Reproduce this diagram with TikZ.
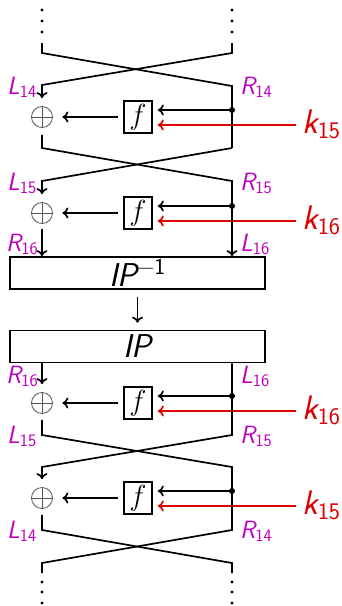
\RequirePackage{fix-cm}
\documentclass[tikz,border=0pt]{standalone}
\usepackage{graphicx}
\usetikzlibrary{arrows.meta}
\definecolor{halfcol}{RGB}{191,0,191}
\definecolor{keycol}{RGB}{220,0,0}
\definecolor{xorcol}{RGB}{85,85,85}
% a half-block name: slanted sans letter with an upright sans index
\newcommand\halfname[2]{{\sffamily\itshape #1}\textsubscript{\sffamily #2}}
\tikzset{
  wire/.style={line width=1.7pt},
  arr/.style={wire,-{To[length=6pt,width=11pt]}},
  xorbox/.style={circle, draw=xorcol, line width=0.8pt, minimum size=21pt, inner sep=0pt,
    path picture={\draw[xorcol, line width=0.8pt]
      (path picture bounding box.north) -- (path picture bounding box.south)
      (path picture bounding box.west) -- (path picture bounding box.east);}},
  fbox/.style={draw, line width=1.7pt, minimum width=28pt, minimum height=32pt, inner sep=0pt,
    font=\fontsize{20.74}{24}\selectfont},
  permbox/.style={draw, line width=1.7pt, minimum width=255pt, minimum height=32pt, inner sep=0pt,
    font=\fontsize{33}{36}\selectfont\sffamily\itshape},
  halflab/.style={text=halfcol, inner sep=0pt, anchor=base west, font=\fontsize{25}{28}\selectfont},
  keylab/.style={text=keycol, inner sep=0pt, anchor=base west, font=\fontsize{34}{38}\selectfont},
}
\begin{document}
\begin{tikzpicture}[x=1pt, y=-1pt]
\useasboundingbox (0,0) rectangle (341,606);

% the two permutation boxes
\node[permbox] (ipinv) at (137.5,273) {IP\textsuperscript{\sffamily\upshape\char"2212 1}};
\node[permbox] (ip) at (137.5,346.5) {IP};
\draw[arr] ([yshift=-7pt]ipinv.south) -- ([yshift=7pt]ip.north);

% one Feistel round per line: index / centre height / subkey
\foreach \i/\c/\k in {1/117/15, 2/213/16, 3/403/16, 4/498/15}{
  \node[xorbox] (x\i) at (42,\c) {};
  \node[fbox] (f\i) at (138,\c) {\scalebox{1.4}{$f$}};
  \coordinate (d\i) at (232,{\c-7});
  \coordinate (kin\i) at (296,{\c+8});
  \draw[arr, shorten >=5pt] (d\i) -- (f\i.east |- d\i);
  \fill (d\i) circle (3pt);
  \draw[arr, keycol, shorten >=5pt] (kin\i) -- (f\i.east |- kin\i);
  \node[keylab] (k\i) at (302,{\c+16}) {\halfname{k}{\k}};
  \draw[arr, shorten <=5pt, shorten >=9.5pt] (f\i.west) -- (x\i.east);
}

% continuation dots
\foreach \x in {42,232}{
  \foreach \y in {10,21,32,582,592,603}{
    \fill (\x,\y) circle (1.7pt);
  }
}

% wires above and between rounds 1 and 2
\draw[wire] (42,43) -- (42,53) -- (232,86) -- (232,148);
\draw[arr, shorten >=8pt] (232,43) -- (232,53) -- (42,85) -- (x1.north);
\draw[wire] ([yshift=-7pt]x1.south) -- (42,148) -- (232,181) -- (232,230);
\draw[arr] (232,230) -- (ipinv.north -| d2);
\draw[arr, shorten >=8pt] (232,148) -- (42,181) -- (x2.north);
\draw[arr] ([yshift=-5pt]x2.south) -- (ipinv.north -| x2);

% wires below the initial permutation
\draw[arr, shorten >=8pt] (ip.south -| x3) -- (x3.north);
\draw[arr, shorten >=8pt] (ip.south -| d3) -- (232,435) -- (42,467) -- (x4.north);
\draw[wire] ([yshift=-6pt]x3.south) -- (42,435) -- (232,467) -- (232,530) -- (42,563) -- (42,573);
\draw[wire] ([yshift=-6pt]x4.south) -- (42,530) -- (232,563) -- (232,573);

% half-block labels
\node[halflab] (l14a) at (7,94)   {\halfname{L}{14}};
\node[halflab] (r14a) at (240,94) {\halfname{R}{14}};
\node[halflab] (l15a) at (7,190)  {\halfname{L}{15}};
\node[halflab] (r15a) at (240,190) {\halfname{R}{15}};
\node[halflab] (r16a) at (6,251)  {\halfname{R}{16}};
\node[halflab] (l16a) at (240,251) {\halfname{L}{16}};
\node[halflab] (r16b) at (6,383)  {\halfname{R}{16}};
\node[halflab] (l16b) at (240,383) {\halfname{L}{16}};
\node[halflab] (l15b) at (7,443)  {\halfname{L}{15}};
\node[halflab] (r15b) at (240,443) {\halfname{R}{15}};
\node[halflab] (l14b) at (7,538)  {\halfname{L}{14}};
\node[halflab] (r14b) at (240,538) {\halfname{R}{14}};
\end{tikzpicture}
\end{document}
